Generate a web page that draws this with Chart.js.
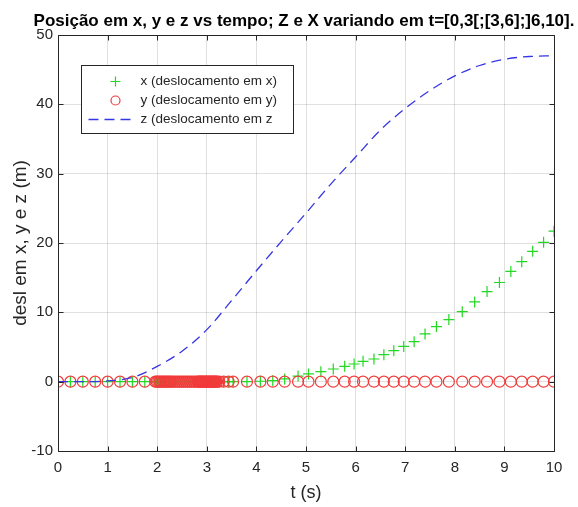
<!DOCTYPE html>
<html>
<head>
<meta charset="utf-8">
<script src="https://cdn.jsdelivr.net/npm/chart.js@4.4.0/dist/chart.umd.min.js"></script>
<style>
html,body{margin:0;padding:0;background:#fff;}
</style>
</head>
<body>
<canvas id="myChart" width="578" height="507"></canvas>
<script>
const tVals = [0,0.25,0.5,0.75,1,1.25,1.5,1.75,
  1.96,1.99,2.02,2.05,2.08,2.11,2.14,2.17,2.2,2.23,2.26,2.29,
  2.33,2.37,2.41,2.45,2.49,2.53,2.57,2.61,2.65,2.69,2.73,2.77,2.81,
  2.83,2.85,2.87,2.89,2.91,2.93,2.95,2.97,2.99,3.01,3.03,3.05,3.07,3.09,3.11,3.13,3.15,3.17,3.19,3.21,
  3.25,3.34,3.44,3.53,
  3.81,4.08,4.33,4.57,4.84,
  5.05,5.3,5.55,5.78,5.97,6.15,6.37,6.57,6.77,6.97,7.18,7.4,7.63,7.88,8.15,8.4,8.65,8.9,9.13,9.35,9.57,9.79,10]
const xVals = [0,0,0,0,0,0,0,0,
  0,0,0,0,0,0,0,0,0,0,0,0,
  0,0,0,0,0,0,0,0,0,0,0,0,0,
  0,0,0,0,0,0,0,0,0,0,0,0,0,0,0,0,0,0,0,0,
  0,0,0,0,
  0.02,0.06,0.15,0.4,0.8,
  1.11,1.44,1.83,2.21,2.55,2.93,3.27,3.9,4.47,5.09,5.77,6.88,7.94,8.95,10.1,11.5,13,14.3,15.9,17.3,18.8,20.1,21.7]
const yVals = [0,0,0,0,0,0,0,0,
  0,0,0,0,0,0,0,0,0,0,0,0,
  0,0,0,0,0,0,0,0,0,0,0,0,0,
  0,0,0,0,0,0,0,0,0,0,0,0,0,0,0,0,0,0,0,0,
  0,0,0,0,
  0,0,0,0,0,
  0,0,0,0,0,0,0,0,0,0,0,0,0,0,0,0,0,0,0,0,0,0,0]
const zT = [0,0.5,1,1.5,2,2.5,3,3.5,4,4.5,5,5.5,6,6.5,7,7.5,8,8.5,9,9.5,10]
const zVals = [0,0,0.1,0.6,2.2,4.4,7.5,11.7,16,20.2,24.3,28.5,32.4,36.3,39.4,42,44.1,45.6,46.5,46.9,47]

const xTicks = [0,1,2,3,4,5,6,7,8,9,10]
const yTicks = [-10,0,10,20,30,40,50]
const titleText = "Posição em x, y e z vs tempo; Z e X variando em t=[0,3[;[3,6];]6,10]."
const legendLabels = ["x (deslocamento em x)","y (deslocamento em y)","z (deslocamento em z"]

const txtColor = '#262626'
const fam = "'Liberation Sans', Arial, sans-serif"

const frame = {
  id:'frame',
  afterDatasetsDraw(chart){
    const {ctx, chartArea:a, scales} = chart
    ctx.save()
    ctx.strokeStyle = txtColor
    ctx.lineWidth = 1
    const L = Math.round(a.left)+0.5, R = Math.round(a.right)+0.5
    const T = Math.round(a.top)+0.5, B = Math.round(a.bottom)+0.5
    ctx.beginPath()
    ctx.rect(L, T, R-L, B-T)
    // ticks inward
    xTicks.forEach(v=>{
      const px = Math.round(scales.x.getPixelForValue(v))+0.5
      ctx.moveTo(px,B); ctx.lineTo(px,B-5)
      ctx.moveTo(px,T); ctx.lineTo(px,T+5)
    })
    yTicks.forEach(v=>{
      const py = Math.round(scales.y.getPixelForValue(v))+0.5
      ctx.moveTo(L,py); ctx.lineTo(L+5,py)
      ctx.moveTo(R,py); ctx.lineTo(R-5,py)
    })
    ctx.stroke()

    // legenda
    const bx = Math.round(a.left)+23.5, by = Math.round(a.top)+30.5, bw = 212, bh = 68
    ctx.fillStyle = '#fff'
    ctx.fillRect(bx,by,bw,bh)
    ctx.strokeStyle = txtColor
    ctx.strokeRect(bx,by,bw,bh)
    const rows = [by+16, by+35, by+54]
    const ds = chart.data.datasets
    // +
    ctx.strokeStyle = ds[0].borderColor
    ctx.lineWidth = 1.2
    ctx.beginPath()
    ctx.moveTo(bx+34-5, rows[0]); ctx.lineTo(bx+34+5, rows[0])
    ctx.moveTo(bx+34, rows[0]-5); ctx.lineTo(bx+34, rows[0]+5)
    ctx.stroke()
    // o
    ctx.strokeStyle = ds[1].borderColor
    ctx.beginPath()
    ctx.arc(bx+34, rows[1], 4.5, 0, Math.PI*2)
    ctx.stroke()
    // --
    ctx.strokeStyle = ds[2].borderColor
    ctx.lineWidth = ds[2].borderWidth
    ctx.setLineDash(ds[2].borderDash)
    ctx.beginPath()
    ctx.moveTo(bx+7, rows[2]); ctx.lineTo(bx+55, rows[2])
    ctx.stroke()
    ctx.setLineDash([])
    ctx.fillStyle = txtColor
    ctx.font = "13.5px " + fam
    ctx.textBaseline = 'middle'
    ctx.textAlign = 'left'
    legendLabels.forEach((s,i)=>ctx.fillText(s, bx+59, rows[i]))

    // titulo
    ctx.font = "bold 17px " + fam
    ctx.textAlign = 'center'
    ctx.textBaseline = 'alphabetic'
    ctx.fillStyle = '#000'
    ctx.fillText(titleText, 304, 26)
    ctx.restore()
  }
}

new Chart("myChart", {
  type: "scatter",
  data: {
    datasets: [{
      label: legendLabels[0],
      data: tVals.map((t,i)=>({x:t, y:xVals[i]})),
      pointStyle: 'cross',
      pointRadius: 5.5,
      borderColor: '#22d822',
      borderWidth: 1.2,
      showLine: false,
      order: 3
    },{
      label: legendLabels[1],
      data: tVals.map((t,i)=>({x:t, y:yVals[i]})),
      pointStyle: 'circle',
      pointRadius: 5.5,
      borderColor: '#f23a3a',
      backgroundColor: 'rgba(0,0,0,0)',
      borderWidth: 1.2,
      showLine: false,
      order: 2
    },{
      label: legendLabels[2],
      data: zT.map((t,i)=>({x:t, y:zVals[i]})),
      showLine: true,
      pointRadius: 0,
      borderColor: '#3636e2',
      borderWidth: 1.3,
      borderDash: [10,6],
      cubicInterpolationMode: 'monotone',
      order: 1
    }]
  },
  options: {
    responsive: false,
    animation: false,
    layout: {padding: {top: 35, right: 24, left: 0, bottom: 0}},
    plugins: {legend: {display: false}, tooltip: {enabled: false}},
    scales: {
      x: {
        type: 'linear', min: 0, max: 10,
        afterBuildTicks: s => { s.ticks = xTicks.map(v=>({value:v})) },
        afterFit: s => { s.height = 56 },
        grid: {color: 'rgba(38,38,38,0.14)', drawTicks: false},
        border: {display: false},
        ticks: {color: txtColor, font: {family: fam, size: 15}, padding: 8, maxRotation: 0},
        title: {display: true, text: 't (s)', color: txtColor, font: {family: fam, size: 18}, padding: {top: 0, bottom: 3}}
      },
      y: {
        min: -10, max: 50,
        afterBuildTicks: s => { s.ticks = yTicks.map(v=>({value:v})) },
        afterFit: s => { s.width = 58 },
        grid: {color: 'rgba(38,38,38,0.14)', drawTicks: false},
        border: {display: false},
        ticks: {color: txtColor, font: {family: fam, size: 15}, padding: 5},
        title: {display: true, text: 'desl em x, y e z (m)', color: txtColor, font: {family: fam, size: 19}, padding: {top: 9, bottom: 0}}
      }
    }
  },
  plugins: [frame]
});
</script>
</body>
</html>
